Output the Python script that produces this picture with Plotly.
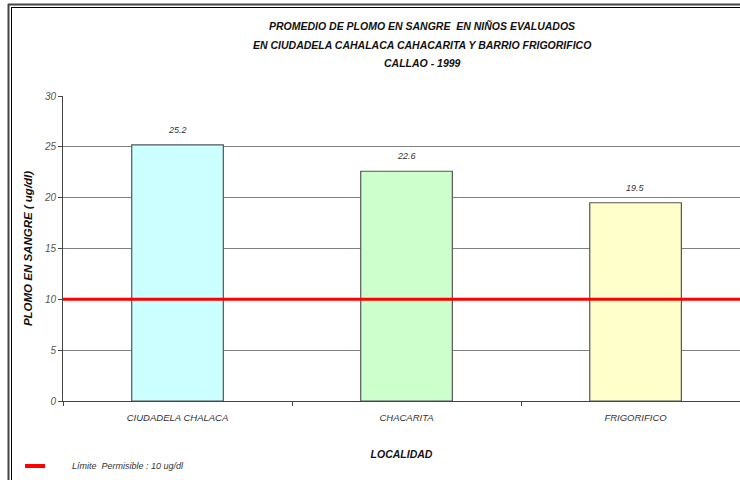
import plotly.graph_objects as go

categories = ["CIUDADELA CHALACA", "CHACARITA", "FRIGORIFICO"]
values = [25.2, 22.6, 19.5]
value_labels = ["25.2", "22.6", "19.5"]
bar_colors = ["#ccffff", "#ccffcc", "#ffffcc"]
limit_value = 10
limit_label = "Límite  Permisible : 10 ug/dl"
title_lines = ["PROMEDIO DE PLOMO EN SANGRE  EN NIÑOS EVALUADOS",
               "EN CIUDADELA CAHALACA CAHACARITA Y BARRIO FRIGORIFICO",
               "CALLAO - 1999"]
y_ticks = [0, 5, 10, 15, 20, 25, 30]

W, H = 740, 480
L, R, T, B = 63, 0, 96, 79
FONT = "Liberation Sans, Arial, sans-serif"

def px_x(p):
    return (p - L) / (W - L - R)

def px_y(p):
    return (H - B - p) / (H - T - B)

fig = go.Figure()
fig.add_trace(go.Bar(
    x=categories, y=values, width=0.4,
    marker=dict(color=bar_colors, line=dict(color="#555555", width=1.2)),
    showlegend=False, hoverinfo="skip",
))
# limit line on an overlaid numeric x axis spanning the full plot width
fig.add_trace(go.Scatter(
    x=[0, 1], y=[limit_value, limit_value], mode="lines", xaxis="x2",
    line=dict(color="#ff0000", width=3), name=limit_label,
    showlegend=False, hoverinfo="skip",
))

shapes = []
# double frame (top and left)
shapes.append(dict(type="line", xref="paper", yref="paper", x0=px_x(8), x1=px_x(760), y0=px_y(4.5), y1=px_y(4.5), line=dict(color="#444444", width=2)))
shapes.append(dict(type="line", xref="paper", yref="paper", x0=px_x(11), x1=px_x(760), y0=px_y(7.5), y1=px_y(7.5), line=dict(color="#000000", width=1)))
shapes.append(dict(type="line", xref="paper", yref="paper", x0=px_x(8.5), x1=px_x(8.5), y0=px_y(4), y1=px_y(490), line=dict(color="#444444", width=2)))
shapes.append(dict(type="line", xref="paper", yref="paper", x0=px_x(11.5), x1=px_x(11.5), y0=px_y(7), y1=px_y(490), line=dict(color="#000000", width=1)))
# legend key
shapes.append(dict(type="line", xref="paper", yref="paper", x0=px_x(25), x1=px_x(45), y0=px_y(466), y1=px_y(466), line=dict(color="#ff0000", width=4)))

annotations = []
for i, line in enumerate(title_lines):
    annotations.append(dict(
        text="<b><i>%s</i></b>" % line, xref="paper", yref="paper",
        x=px_x(422), y=px_y(26 + 18.5 * i), xanchor="center", yanchor="middle",
        showarrow=False, font=dict(family=FONT, size=10.5, color="#111111"),
    ))
for c, v, t in zip(categories, values, value_labels):
    annotations.append(dict(
        text="<i>%s</i>" % t, x=c, y=v, xref="x", yref="y", yshift=15,
        xanchor="center", yanchor="middle", showarrow=False,
        font=dict(family=FONT, size=9, color="#333333"),
    ))
annotations.append(dict(
    text="<i>%s</i>" % limit_label, xref="paper", yref="paper",
    x=px_x(70), y=px_y(466), xanchor="left", yanchor="middle", showarrow=False,
    font=dict(family=FONT, size=9, color="#333333"),
))

fig.update_layout(
    width=W, height=H, margin=dict(l=L, r=R, t=T, b=B, autoexpand=False),
    paper_bgcolor="white", plot_bgcolor="white",
    shapes=shapes, annotations=annotations,
    font=dict(family=FONT), showlegend=False,
    xaxis=dict(
        range=[-0.5, 2.456], showgrid=False, showline=True, linecolor="#444444",
        linewidth=1, ticks="outside", tickson="boundaries", ticklen=4,
        tickcolor="#444444", ticklabelstandoff=8,
        tickfont=dict(family=FONT, size=9.5, color="#333333", style="italic"),
        title=dict(text="<b><i>LOCALIDAD</i></b>", standoff=28,
                   font=dict(family=FONT, size=10.5, color="#111111")),
    ),
    xaxis2=dict(range=[0, 1], overlaying="x", visible=False, fixedrange=True),
    yaxis=dict(
        range=[0, 30], tickvals=y_ticks, showgrid=True, gridcolor="#808080",
        gridwidth=1, showline=True, linecolor="#444444", linewidth=1,
        ticks="outside", ticklen=4, tickcolor="#444444", zeroline=False,
        tickfont=dict(family=FONT, size=10, color="#555555", style="italic"),
        title=dict(text="<b><i>PLOMO EN SANGRE ( ug/dl)</i></b>", standoff=8,
                   font=dict(family=FONT, size=11.5, color="#111111")),
    ),
)

fig.write_html("out.html")
